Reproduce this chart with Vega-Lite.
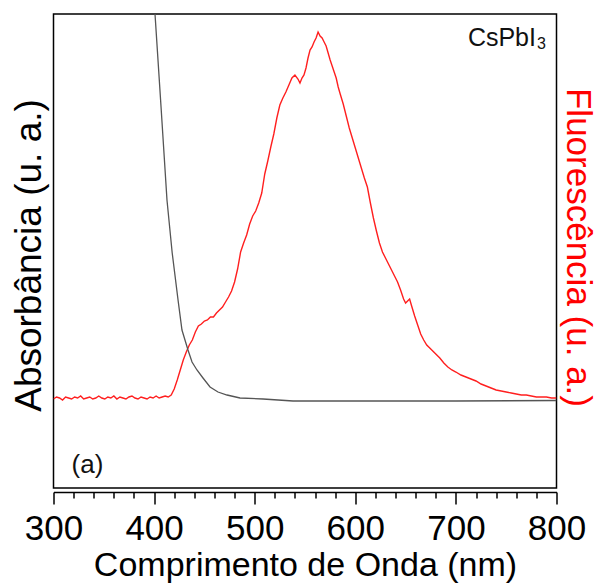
{
  "$schema": "https://vega.github.io/schema/vega-lite/v6.json",
  "autosize": "none",
  "width": 503,
  "height": 474,
  "padding": {"left": 53.5, "top": 14, "right": 43.5, "bottom": 95},
  "background": "white",
  "config": {
    "view": {"stroke": "#000", "strokeWidth": 1.5},
    "font": "Liberation Sans"
  },
  "datasets": {
    "fluo": [
      {"nm": 300, "fl": 89}, {"nm": 303, "fl": 91}, {"nm": 306, "fl": 90}, {"nm": 309, "fl": 88}, {"nm": 312, "fl": 91},
      {"nm": 315, "fl": 90}, {"nm": 318, "fl": 89}, {"nm": 321, "fl": 91}, {"nm": 324, "fl": 90}, {"nm": 327, "fl": 92},
      {"nm": 330, "fl": 89}, {"nm": 333, "fl": 90}, {"nm": 336, "fl": 91}, {"nm": 339, "fl": 89}, {"nm": 342, "fl": 90},
      {"nm": 345, "fl": 92}, {"nm": 348, "fl": 90}, {"nm": 351, "fl": 89}, {"nm": 354, "fl": 91}, {"nm": 357, "fl": 90},
      {"nm": 360, "fl": 92}, {"nm": 363, "fl": 89}, {"nm": 366, "fl": 91}, {"nm": 369, "fl": 90}, {"nm": 372, "fl": 89},
      {"nm": 375, "fl": 91}, {"nm": 378, "fl": 92}, {"nm": 381, "fl": 90}, {"nm": 384, "fl": 89}, {"nm": 387, "fl": 91},
      {"nm": 390, "fl": 90}, {"nm": 393, "fl": 89}, {"nm": 396, "fl": 91}, {"nm": 399, "fl": 90}, {"nm": 402, "fl": 92},
      {"nm": 405, "fl": 90}, {"nm": 408, "fl": 91}, {"nm": 411, "fl": 92}, {"nm": 414, "fl": 91}, {"nm": 417, "fl": 93},
      {"nm": 420, "fl": 99}, {"nm": 423, "fl": 108}, {"nm": 426, "fl": 118}, {"nm": 429, "fl": 128}, {"nm": 432, "fl": 136},
      {"nm": 435, "fl": 143}, {"nm": 438, "fl": 148}, {"nm": 441, "fl": 156}, {"nm": 444, "fl": 162}, {"nm": 447, "fl": 164},
      {"nm": 450, "fl": 167}, {"nm": 453, "fl": 168}, {"nm": 456, "fl": 171}, {"nm": 459, "fl": 171}, {"nm": 462, "fl": 175},
      {"nm": 465, "fl": 178}, {"nm": 468, "fl": 181}, {"nm": 471, "fl": 186}, {"nm": 474, "fl": 191}, {"nm": 477, "fl": 197},
      {"nm": 480, "fl": 206}, {"nm": 483, "fl": 219}, {"nm": 486, "fl": 236}, {"nm": 489, "fl": 245}, {"nm": 492, "fl": 253},
      {"nm": 495, "fl": 264}, {"nm": 498, "fl": 272}, {"nm": 501, "fl": 277}, {"nm": 504, "fl": 285}, {"nm": 507, "fl": 295},
      {"nm": 510, "fl": 314}, {"nm": 513, "fl": 327}, {"nm": 516, "fl": 341}, {"nm": 519, "fl": 354}, {"nm": 522, "fl": 370},
      {"nm": 525, "fl": 383}, {"nm": 528, "fl": 390}, {"nm": 531, "fl": 396}, {"nm": 534, "fl": 403}, {"nm": 537, "fl": 410},
      {"nm": 540, "fl": 413}, {"nm": 543, "fl": 409}, {"nm": 545, "fl": 405}, {"nm": 547, "fl": 410}, {"nm": 549, "fl": 413},
      {"nm": 551, "fl": 420}, {"nm": 553, "fl": 430}, {"nm": 555, "fl": 438}, {"nm": 557, "fl": 441}, {"nm": 559, "fl": 446},
      {"nm": 561, "fl": 450}, {"nm": 563, "fl": 456}, {"nm": 565, "fl": 452}, {"nm": 567, "fl": 450}, {"nm": 569, "fl": 446},
      {"nm": 571, "fl": 442}, {"nm": 573, "fl": 435}, {"nm": 575, "fl": 428}, {"nm": 577, "fl": 422}, {"nm": 579, "fl": 416},
      {"nm": 581, "fl": 410}, {"nm": 583, "fl": 401}, {"nm": 585, "fl": 394}, {"nm": 588, "fl": 384}, {"nm": 591, "fl": 372},
      {"nm": 594, "fl": 360}, {"nm": 597, "fl": 350}, {"nm": 600, "fl": 340}, {"nm": 603, "fl": 330}, {"nm": 606, "fl": 320},
      {"nm": 609, "fl": 310}, {"nm": 612, "fl": 301}, {"nm": 615, "fl": 285}, {"nm": 618, "fl": 270}, {"nm": 621, "fl": 257},
      {"nm": 624, "fl": 245}, {"nm": 627, "fl": 236}, {"nm": 630, "fl": 230}, {"nm": 633, "fl": 224}, {"nm": 636, "fl": 218},
      {"nm": 639, "fl": 212}, {"nm": 642, "fl": 206}, {"nm": 645, "fl": 198}, {"nm": 648, "fl": 189}, {"nm": 650, "fl": 185},
      {"nm": 652, "fl": 187}, {"nm": 654, "fl": 189}, {"nm": 656, "fl": 182}, {"nm": 659, "fl": 172}, {"nm": 662, "fl": 163},
      {"nm": 665, "fl": 154}, {"nm": 668, "fl": 148}, {"nm": 671, "fl": 143}, {"nm": 674, "fl": 140}, {"nm": 677, "fl": 137},
      {"nm": 680, "fl": 134}, {"nm": 684, "fl": 130}, {"nm": 688, "fl": 125}, {"nm": 692, "fl": 121}, {"nm": 696, "fl": 118},
      {"nm": 700, "fl": 116}, {"nm": 705, "fl": 113}, {"nm": 710, "fl": 111}, {"nm": 715, "fl": 109}, {"nm": 720, "fl": 107},
      {"nm": 725, "fl": 104}, {"nm": 730, "fl": 102}, {"nm": 735, "fl": 100}, {"nm": 740, "fl": 98}, {"nm": 745, "fl": 97},
      {"nm": 750, "fl": 96}, {"nm": 755, "fl": 95}, {"nm": 760, "fl": 94}, {"nm": 765, "fl": 93}, {"nm": 770, "fl": 93},
      {"nm": 775, "fl": 92}, {"nm": 780, "fl": 91}, {"nm": 785, "fl": 91}, {"nm": 790, "fl": 91}, {"nm": 795, "fl": 90},
      {"nm": 800, "fl": 90}
    ],
    "abs": [
      {"nm": 395, "ab": 560}, {"nm": 400.9, "ab": 474}, {"nm": 406.9, "ab": 381}, {"nm": 412.8, "ab": 288},
      {"nm": 418, "ab": 235}, {"nm": 423.8, "ab": 188}, {"nm": 427.7, "ab": 158}, {"nm": 433.7, "ab": 138},
      {"nm": 437.7, "ab": 126}, {"nm": 442.6, "ab": 118}, {"nm": 448.6, "ab": 110}, {"nm": 455.6, "ab": 101},
      {"nm": 463.5, "ab": 96}, {"nm": 472.5, "ab": 93}, {"nm": 485.4, "ab": 90}, {"nm": 508.3, "ab": 89},
      {"nm": 538.1, "ab": 87}, {"nm": 600, "ab": 87}, {"nm": 700, "ab": 87}, {"nm": 800, "ab": 87.5}
    ],
    "labels": [
      {"nm": 333.8, "v": 15, "t": "(a)"}
    ],
    "compound": [
      {"nm": 779.6, "v": 442, "t": "CsPbI"}
    ],
    "sub": [
      {"nm": 780.6, "v": 439, "t": "3"}
    ]
  },
  "encoding": {
    "x": {
      "field": "nm", "type": "quantitative",
      "scale": {"domain": [300, 800], "nice": false, "zero": false},
      "axis": {
        "values": [300, 320, 340, 360, 380, 400, 420, 440, 460, 480, 500, 520, 540, 560, 580, 600, 620, 640, 660, 680, 700, 720, 740, 760, 780, 800],
        "labelExpr": "datum.value % 100 === 0 ? datum.label : ''",
        "tickSize": {"condition": {"test": "datum.value % 100 === 0", "value": 12}, "value": 6},
        "tickColor": "#000", "tickWidth": 1.5,
        "domainColor": "#000", "domainWidth": 1.5,
        "offset": 4,
        "grid": false,
        "labelFontSize": 35, "labelColor": "#000", "labelPadding": 7,
        "labelFlush": false, "labelOverlap": false,
        "title": "Comprimento de Onda (nm)",
        "titleFontSize": 34, "titleFontWeight": "normal", "titleColor": "#000", "titlePadding": 2
      }
    }
  },
  "layer": [
    {
      "data": {"name": "fluo"},
      "mark": {"type": "line", "color": "#ff1f1f", "strokeWidth": 1.4, "clip": true},
      "encoding": {
        "y": {
          "field": "fl", "type": "quantitative",
          "scale": {"domain": [0, 474], "nice": false, "zero": false},
          "axis": {
            "orient": "right", "labels": false, "ticks": false, "domain": false, "grid": false,
            "title": "Fluorescência (u. a.)", "titleColor": "#ff0000", "titleFontSize": 35,
            "titleFontWeight": "normal", "titleAngle": 90, "titlePadding": 3, "titleY": 233
          }
        }
      }
    },
    {
      "data": {"name": "abs"},
      "mark": {"type": "line", "color": "#555555", "strokeWidth": 1.3, "clip": true},
      "encoding": {
        "y": {
          "field": "ab", "type": "quantitative",
          "scale": {"domain": [0, 474], "nice": false, "zero": false},
          "axis": {
            "orient": "left", "labels": false, "ticks": false, "domain": false, "grid": false,
            "title": "Absorbância (u. a.)", "titleColor": "#000", "titleFontSize": 37,
            "titleFontWeight": "normal", "titlePadding": 5, "titleY": 241
          }
        }
      }
    },
    {
      "data": {"name": "labels"},
      "mark": {"type": "text", "fontSize": 26, "align": "center", "baseline": "alphabetic", "color": "#111"},
      "encoding": {
        "y": {"field": "v", "type": "quantitative", "scale": {"domain": [0, 474], "nice": false, "zero": false}, "axis": null},
        "text": {"field": "t"}
      }
    },
    {
      "data": {"name": "compound"},
      "mark": {"type": "text", "fontSize": 25, "align": "right", "baseline": "alphabetic", "color": "#111"},
      "encoding": {
        "y": {"field": "v", "type": "quantitative", "scale": {"domain": [0, 474], "nice": false, "zero": false}, "axis": null},
        "text": {"field": "t"}
      }
    },
    {
      "data": {"name": "sub"},
      "mark": {"type": "text", "fontSize": 16, "align": "left", "baseline": "alphabetic", "color": "#111"},
      "encoding": {
        "y": {"field": "v", "type": "quantitative", "scale": {"domain": [0, 474], "nice": false, "zero": false}, "axis": null},
        "text": {"field": "t"}
      }
    }
  ],
  "resolve": {"scale": {"y": "independent"}, "axis": {"y": "independent"}}
}
